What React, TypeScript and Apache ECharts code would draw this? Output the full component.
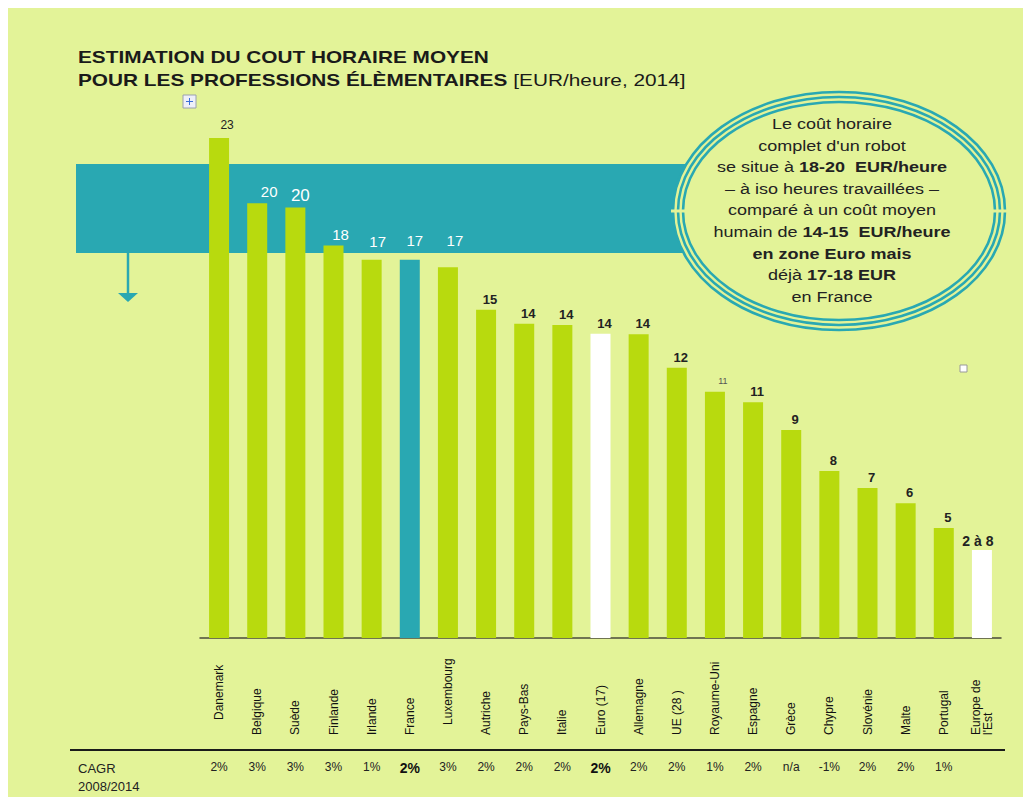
import React, { useEffect, useRef } from "react";
import * as echarts from "echarts";

const categories = [
  "Danemark", "Belgique", "Suède", "Finlande", "Irlande", "France", "Luxembourg",
  "Autriche", "Pays-Bas", "Italie", "Euro (17)", "Allemagne", "UE (28 )", "Royaume-Uni",
  "Espagne", "Grèce", "Chypre", "Slovénie", "Malte", "Portugal", "Europe de\nl'Est",
];
const values = [
  23.0, 20.0, 19.8, 18.05, 17.4, 17.4, 17.05, 15.1, 14.45, 14.4, 14.0, 13.97, 12.43,
  11.33, 10.84, 9.57, 7.68, 6.9, 6.2, 5.06, 4.05,
];
const valueLabels = [
  "23", "20", "20", "18", "17", "17", "17", "15", "14", "14", "14", "14", "12", "11",
  "11", "9", "8", "7", "6", "5", "2 à 8",
];
const cagr = [
  "2%", "3%", "3%", "3%", "1%", "2%", "3%", "2%", "2%", "2%", "2%", "2%", "2%", "1%",
  "2%", "n/a", "-1%", "2%", "2%", "1%", "",
];
const boldCagr = ["France", "Euro (17)"];
const tealBars = ["France"];
const whiteBars = ["Euro (17)", "Europe de\nl'Est"];

const BG = "#e3f398";
const LIME = "#b8da0e";
const TEAL = "#29a8b2";
const NARROW = "'Liberation Sans Narrow', 'Arial Narrow', 'Liberation Sans', sans-serif";
const SANS = "'Liberation Sans', Arial, sans-serif";

export default function App() {
  const ref = useRef<HTMLDivElement>(null);
  useEffect(() => {
    document.documentElement.style.overflow = "hidden";
    document.body.style.overflow = "hidden";
    const chart = echarts.init(ref.current!, null, { renderer: "svg" });

    const labelStyleFor = (i: number) => {
      const name = categories[i];
      if (i === 0) return { color: "#222", fontSize: 12, fontWeight: "normal", offset: [8, -3] };
      if (i >= 1 && i <= 6) {
        const offs: number[][] = [[], [12, 0], [5, 0], [7, 0], [6, -7], [5, -8], [7, -15]];
        return {
          color: "#ffffff",
          fontSize: i === 2 ? 17 : 15,
          fontWeight: "normal",
          offset: offs[i],
        };
      }
      if (name === "Royaume-Uni") return { color: "#555", fontSize: 9, fontWeight: "normal", offset: [8, -2] };
      if (name === "Europe de\nl'Est") return { color: "#222", fontSize: 14, fontWeight: "bold", offset: [-4, 2] };
      return { color: "#222", fontSize: 13, fontWeight: "bold", offset: [4, 0] };
    };

    const data = values.map((v, i) => {
      const name = categories[i];
      const color = tealBars.includes(name) ? TEAL : whiteBars.includes(name) ? "#ffffff" : LIME;
      const ls = labelStyleFor(i);
      return {
        value: v,
        itemStyle: { color },
        label: {
          show: true,
          position: "top",
          distance: 4,
          formatter: () => valueLabels[i],
          color: ls.color,
          fontSize: ls.fontSize,
          fontWeight: ls.fontWeight as any,
          fontFamily: SANS,
          offset: ls.offset,
        },
      };
    });

    const labelPadding: Record<string, number[]> = {
      Danemark: [0, 0, 0, 15],
      Luxembourg: [0, 0, 0, 10],
    };

    const ellCx = 831, ellCy = 203;
    const rings = [0, 5, 10].map((d, k) => ({
      type: "ellipse",
      z: 20 + k,
      shape: { cx: ellCx, cy: ellCy, rx: 166 - d, ry: 119 - d },
      style: { fill: k === 0 ? BG : "none", stroke: TEAL, lineWidth: 2.6 },
    }));

    chart.setOption({
      animation: false,
      backgroundColor: BG,
      grid: { left: 192, right: 30, top: 86.5, bottom: 159, containLabel: false },
      xAxis: [
        {
          type: "category",
          data: categories,
          axisTick: { show: false },
          axisLine: { lineStyle: { color: "#4a4a3a", width: 1.5 } },
          axisLabel: {
            interval: 0,
            rotate: 90,
            align: "left",
            verticalAlign: "middle",
            margin: 97,
            fontSize: 12,
            fontFamily: NARROW,
            color: "#111",
            lineHeight: 12,
            formatter: (v: string) => (labelPadding[v] ? `{p${labelPadding[v][3]}|${v}}` : v),
            rich: {
              p15: { padding: [0, 0, 0, 15], fontSize: 12, fontFamily: NARROW, color: "#111" },
              p10: { padding: [0, 0, 0, 10], fontSize: 12, fontFamily: NARROW, color: "#111" },
            },
          },
        },
        {
          type: "category",
          data: cagr,
          position: "bottom",
          offset: 115,
          axisLine: { show: false },
          axisTick: { show: false },
          axisLabel: {
            interval: 0,
            margin: 8,
            fontSize: 12,
            fontFamily: NARROW,
            color: "#222",
            formatter: (v: string, i: number) =>
              boldCagr.includes(categories[i]) ? `{b|${v}}` : v,
            rich: { b: { fontWeight: "bold", fontSize: 14, fontFamily: SANS, color: "#111" } },
          },
        },
      ],
      yAxis: { type: "value", min: 0, max: 25, show: false },
      series: [
        {
          type: "bar",
          xAxisIndex: 0,
          data,
          barWidth: 20,
          z: 5,
        },
      ],
      graphic: [
        { type: "rect", z: 0, zlevel: 0, silent: true, shape: { x: 68, y: 156, width: 640, height: 89 }, style: { fill: TEAL } },
        { type: "line", z: 1, shape: { x1: 120, y1: 245, x2: 120, y2: 287 }, style: { stroke: TEAL, lineWidth: 2.5 } },
        { type: "polygon", z: 1, shape: { points: [[110, 285], [130, 285], [120, 294]] }, style: { fill: TEAL } },
        ...rings,
        { type: "rect", z: 30, shape: { x: 663, y: 201.5, width: 17, height: 3 }, style: { fill: BG } },
        { type: "rect", z: 30, shape: { x: 982, y: 201.5, width: 17, height: 3 }, style: { fill: BG } },
        {
          type: "text",
          z: 40,
          x: 824,
          y: 202.5,
          scaleX: 1.2,
          style: {
            text: [
              "Le coût horaire",
              "complet d'un robot",
              "se situe à {b|18-20  EUR/heure}",
              "– à iso heures travaillées –",
              "comparé à un coût moyen",
              "humain de {b|14-15  EUR/heure}",
              "{b|en zone Euro mais}",
              "déjà {b|17-18 EUR}",
              "en France",
            ].join("\n"),
            align: "center",
            verticalAlign: "middle",
            fontSize: 15,
            fontFamily: SANS,
            fill: "#222",
            lineHeight: 21.6,
            rich: { b: { fontWeight: "bold", fontSize: 15, fontFamily: SANS, fill: "#222", lineHeight: 21.6 } },
          },
        },
        {
          type: "text",
          z: 40,
          x: 70,
          y: 49,
          scaleX: 1.3,
          style: {
            text: "ESTIMATION DU COUT HORAIRE MOYEN",
            verticalAlign: "middle",
            fontSize: 16,
            fontWeight: "bold",
            fontFamily: SANS,
            fill: "#1a1a1a",
          },
        },
        {
          type: "text",
          z: 40,
          x: 70,
          y: 72,
          scaleX: 1.3,
          style: {
            text: "{b|POUR LES PROFESSIONS ÉLÈMENTAIRES} [EUR/heure, 2014]",
            verticalAlign: "middle",
            fontSize: 16,
            fontFamily: SANS,
            fill: "#1a1a1a",
            rich: { b: { fontWeight: "bold", fontSize: 16, fontFamily: SANS, fill: "#1a1a1a" } },
          },
        },
        { type: "rect", z: 40, shape: { x: 175, y: 87, width: 13, height: 13 }, style: { fill: "#eef0f8", stroke: "#9aa0b0", lineWidth: 1 } },
        { type: "line", z: 41, shape: { x1: 178, y1: 93.5, x2: 185, y2: 93.5 }, style: { stroke: "#3a6fd8", lineWidth: 1 } },
        { type: "line", z: 41, shape: { x1: 181.5, y1: 90, x2: 181.5, y2: 97 }, style: { stroke: "#3a6fd8", lineWidth: 1 } },
        { type: "rect", z: 40, shape: { x: 952, y: 357, width: 7, height: 7 }, style: { fill: "#ffffff", stroke: "#999", lineWidth: 1 } },
        { type: "line", z: 40, shape: { x1: 62, y1: 742, x2: 997, y2: 742 }, style: { stroke: "#1a1a1a", lineWidth: 2 } },
        {
          type: "text",
          z: 40,
          x: 70,
          y: 760,
          style: { text: "CAGR", verticalAlign: "middle", fontSize: 13, fontFamily: SANS, fill: "#222" },
        },
        {
          type: "text",
          z: 40,
          x: 70,
          y: 778,
          style: { text: "2008/2014", verticalAlign: "middle", fontSize: 13, fontFamily: SANS, fill: "#222" },
        },
      ],
    });
    return () => chart.dispose();
  }, []);
  return <div ref={ref} style={{ width: 1023, height: 789 }} />;
}
